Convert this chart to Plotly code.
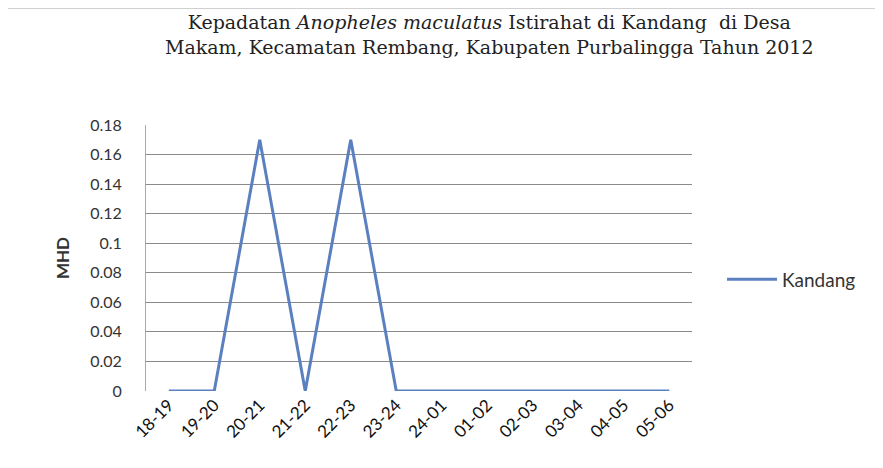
import plotly.graph_objects as go

# Data
jam = ["18-19", "19-20", "20-21", "21-22", "22-23", "23-24",
       "24-01", "01-02", "02-03", "03-04", "04-05", "05-06"]
mhd_kandang = [0, 0, 0.17, 0, 0.17, 0, 0, 0, 0, 0, 0, 0]
y_ticks = [0, 0.02, 0.04, 0.06, 0.08, 0.1, 0.12, 0.14, 0.16, 0.18]
y_labels = ["0", "0.02", "0.04", "0.06", "0.08", "0.1", "0.12", "0.14", "0.16", "0.18"]

fig = go.Figure()
fig.add_trace(go.Scatter(x=jam, y=mhd_kandang, mode="lines", name="Kandang",
                         line=dict(color="#5b80c0", width=3)))

title_txt = ("Kepadatan <i>Anopheles maculatus</i> Istirahat di Kandang  di Desa<br>"
             "Makam, Kecamatan Rembang, Kabupaten Purbalingga Tahun 2012")

fig.update_layout(
    width=883, height=468,
    margin=dict(l=138, r=199, t=117, b=85),
    paper_bgcolor="white", plot_bgcolor="white",
    title=dict(text=title_txt, x=0.545, xanchor="center", y=0.955, yanchor="top",
               font=dict(family="DejaVu Serif", size=19, color="#222")),
    legend=dict(x=1.055, y=0.42, xanchor="left", yanchor="middle", itemwidth=50,
                font=dict(family="Lato", size=19, color="#333")),
    showlegend=True,
)
fig.update_xaxes(type="category", range=[-0.5, 11.5], tickangle=-45,
                 tickfont=dict(family="Lato", size=17, color="#111"),
                 showgrid=False, showline=False, ticks="")
fig.update_yaxes(range=[0, 0.18], tickvals=y_ticks, ticktext=y_labels,
                 tickfont=dict(family="Lato", size=16, color="#333"),
                 showgrid=True, gridcolor="#8a8a8a", gridwidth=1,
                 showline=True, linecolor="#aaa", linewidth=1,
                 zeroline=False, ticks="", ticklabelstandoff=20,
                 title=dict(text="<b>MHD</b>", font=dict(family="Lato", size=17, color="#333"),
                            standoff=16))

# scanned page frame line at the top
fig.add_shape(type="line", xref="paper", yref="paper", x0=-0.26, x1=1.37,
              y0=1.44, y1=1.44, line=dict(color="#999", width=1))

fig.write_html("out.html")
